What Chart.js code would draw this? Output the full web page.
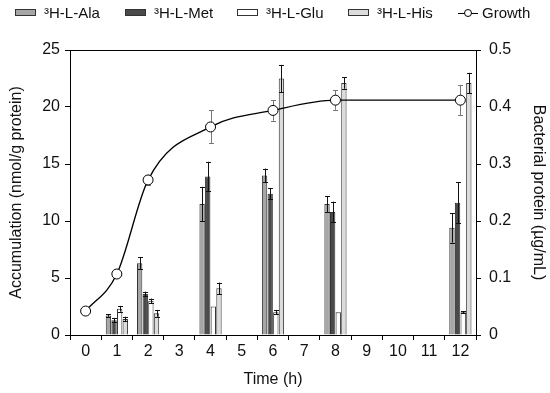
<!DOCTYPE html>
<html>
<head>
<meta charset="utf-8">
<script src="https://cdn.jsdelivr.net/npm/chart.js@4.4.0/dist/chart.umd.min.js"></script>
<style>
  body { margin: 0; background: #fff; }
  #wrap { position: relative; width: 550px; height: 393px; }
  #legend { position: absolute; top: 0; left: 0; width: 550px; height: 28px; font: 15px 'Liberation Sans', Arial, sans-serif; color: #111; }
  .item { position: absolute; top: 4px; display: flex; align-items: center; white-space: nowrap; }
  .sw { width: 19px; height: 5px; border: 1px solid #333; margin-right: 8px; }
  .gline { position: relative; width: 20px; height: 14px; margin-right: 4px; }
  .gline:before { content: ''; position: absolute; left: 0; right: 0; top: 7px; border-top: 1px solid #000; }
  .gline:after { content: ''; position: absolute; left: 6px; top: 3px; width: 6px; height: 6px; border: 1px solid #000; border-radius: 50%; background: #fff; }
</style>
</head>
<body>
<div id="wrap">
  <canvas id="chart" width="550" height="393"></canvas>
  <div id="legend">
    <div class="item" style="left:15px"><span class="sw" style="background:#a6a6a6"></span>³H-L-Ala</div>
    <div class="item" style="left:125px"><span class="sw" style="background:#4a4a4a"></span>³H-L-Met</div>
    <div class="item" style="left:237px"><span class="sw" style="background:#ffffff"></span>³H-L-Glu</div>
    <div class="item" style="left:348px"><span class="sw" style="background:#dcdcdc"></span>³H-L-His</div>
    <div class="item" style="left:458px"><span class="gline"></span>Growth</div>
  </div>
</div>
<script>
// Time points (h)
const times = ['0', '1', '2', '3', '4', '5', '6', '7', '8', '9', '10', '11', '12'];

// Accumulation (nmol/g protein)
const alaValues = [null, 1.7, 6.3, null, 11.5, null, 14.0, null, 11.5, null, null, null, 9.4];
const alaErrors = [null, 0.1, 0.5, null, 1.5, null, 0.6, null, 0.7, null, null, null, 1.3];
const metValues = [null, 1.3, 3.6, null, 13.9, null, 12.4, null, 10.8, null, null, null, 11.6];
const metErrors = [null, 0.2, 0.2, null, 1.3, null, 0.5, null, 0.9, null, null, null, 1.8];
const gluValues = [null, 2.3, 3.0, null, 2.5, null, 2.0, null, 2.0, null, null, null, 2.0];
const gluErrors = [null, 0.25, 0.2, null, 0, null, 0.2, null, 0, null, null, null, 0.1];
const hisValues = [null, 1.4, 1.9, null, 4.1, null, 22.5, null, 22.1, null, null, null, 22.1];
const hisErrors = [null, 0.2, 0.3, null, 0.5, null, 1.2, null, 0.5, null, null, null, 0.9];

// Bacterial protein (ug/mL)
const growthValues = [0.042, 0.107, 0.272, null, 0.365, null, 0.394, null, 0.412, null, null, null, 0.412];
const growthErrors = [0, 0.006, 0.009, null, 0.029, null, 0.018, null, 0.017, null, null, null, 0.026];

const font = { family: "'Liberation Sans', Arial, sans-serif", size: 16 };

// Error bars drawn from the library's scales and element positions
function drawErrors(chart, which) {
    const ctx = chart.ctx;
    chart.data.datasets.forEach((ds, i) => {
        if (!ds.errors || (ds.type === 'line') !== (which === 'line')) return;
        const meta = chart.getDatasetMeta(i);
        const scale = chart.scales[ds.yAxisID || 'y'];
        ctx.save();
        ctx.strokeStyle = ds.errorColor;
        ctx.lineWidth = 1;
        meta.data.forEach((el, j) => {
            const v = ds.data[j], e = ds.errors[j];
            if (v == null || !e) return;
            const top = scale.getPixelForValue(v + e);
            const bot = scale.getPixelForValue(v - e);
            const x = Math.round(el.x) + 0.5;
            const cap = 2.5;
            ctx.beginPath();
            ctx.moveTo(x, top); ctx.lineTo(x, bot);
            ctx.moveTo(x - cap, Math.round(top) + 0.5); ctx.lineTo(x + cap, Math.round(top) + 0.5);
            ctx.moveTo(x - cap, Math.round(bot) + 0.5); ctx.lineTo(x + cap, Math.round(bot) + 0.5);
            ctx.stroke();
        });
        ctx.restore();
    });
}

const errorBars = {
    id: 'errorBars',
    beforeDatasetsDraw(chart) { drawErrors(chart, 'line'); },
    afterDatasetsDraw(chart) {
        drawErrors(chart, 'bar');
        // top frame line
        const a = chart.chartArea, ctx = chart.ctx;
        ctx.save();
        ctx.strokeStyle = '#000';
        ctx.lineWidth = 1;
        ctx.beginPath();
        ctx.moveTo(a.left, Math.round(a.top) + 0.5);
        ctx.lineTo(a.right, Math.round(a.top) + 0.5);
        ctx.stroke();
        ctx.restore();
    }
};

function barSet(label, data, errors, fill) {
    return {
        type: 'bar', label: label, data: data, errors: errors, errorColor: '#111',
        backgroundColor: fill, borderColor: '#333', borderWidth: 1, borderSkipped: 'bottom',
        categoryPercentage: 0.72, barPercentage: 0.95, yAxisID: 'y', order: 1
    };
}

new Chart(document.getElementById('chart').getContext('2d'), {
    data: {
        labels: times,
        datasets: [
            barSet('³H-L-Ala', alaValues, alaErrors, '#a6a6a6'),
            barSet('³H-L-Met', metValues, metErrors, '#4a4a4a'),
            barSet('³H-L-Glu', gluValues, gluErrors, '#ffffff'),
            barSet('³H-L-His', hisValues, hisErrors, '#dcdcdc'),
            {
                type: 'line', label: 'Growth', data: growthValues, errors: growthErrors, errorColor: '#777',
                yAxisID: 'y2', borderColor: '#000', borderWidth: 1.4, spanGaps: true,
                cubicInterpolationMode: 'monotone',
                pointRadius: 5, pointBackgroundColor: '#fff', pointBorderColor: '#000', pointBorderWidth: 1,
                order: 0
            }
        ]
    },
    options: {
        responsive: false,
        animation: false,
        layout: { padding: { top: 50, left: 0, right: 0, bottom: 0 } },
        plugins: { legend: { display: false }, tooltip: { enabled: false } },
        scales: {
            x: {
                type: 'category',
                grid: { drawOnChartArea: false, color: '#000', tickLength: 5, offset: true },
                border: { color: '#000' },
                ticks: { color: '#111', font: font, maxRotation: 0, autoSkip: false, padding: 2 },
                title: { display: true, text: 'Time (h)', color: '#111', font: font, padding: { top: 0, bottom: 4 } },
                afterFit(s) { s.height = 58; }
            },
            y: {
                position: 'left', min: 0, max: 25,
                grid: { drawOnChartArea: false, color: '#000', tickLength: 5 },
                border: { color: '#000' },
                ticks: { stepSize: 5, color: '#111', font: font, padding: 5 },
                title: { display: true, text: 'Accumulation (nmol/g protein)', color: '#111', font: font, padding: { top: 7, bottom: 0 } },
                afterFit(s) { s.width = 70; }
            },
            y2: {
                position: 'right', min: 0, max: 0.5,
                grid: { drawOnChartArea: false, color: '#000', tickLength: 5 },
                border: { color: '#000' },
                ticks: {
                    stepSize: 0.1, color: '#111', font: font, padding: 8,
                    callback: function(value) { return value === 0 ? '0' : value.toFixed(1); }
                },
                title: { display: true, text: 'Bacterial protein (µg/mL)', color: '#111', font: font, padding: { top: 2, bottom: 4 } },
                afterFit(s) { s.width = 74; }
            }
        }
    },
    plugins: [errorBars]
});
</script>
</body>
</html>
